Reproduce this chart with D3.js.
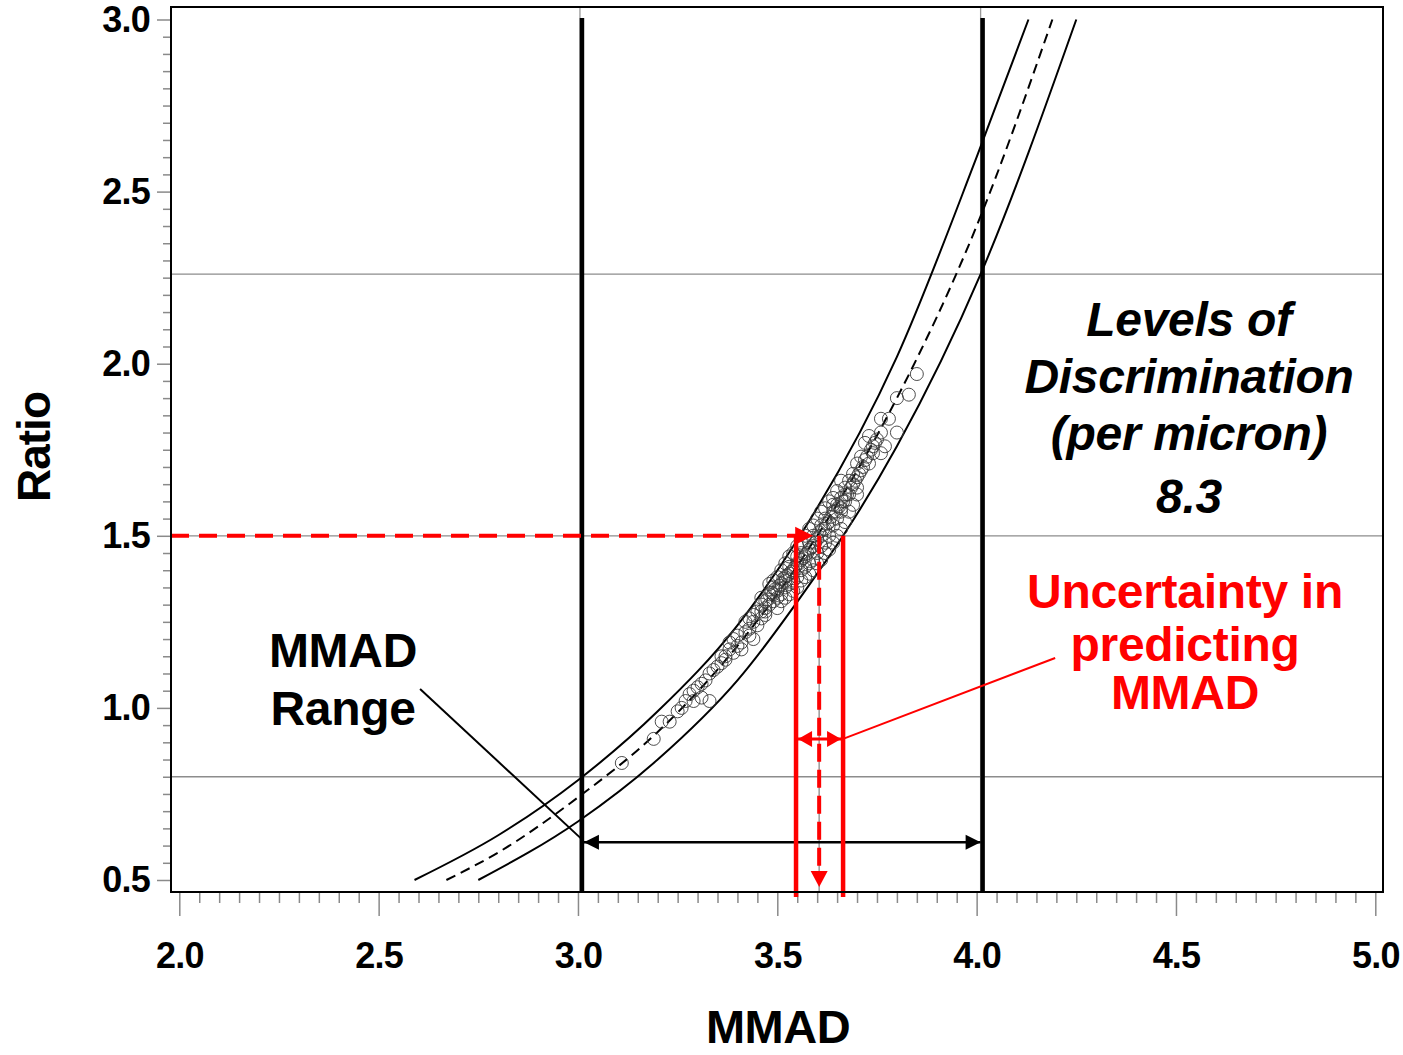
<!DOCTYPE html>
<html>
<head>
<meta charset="utf-8">
<script src="https://cdn.jsdelivr.net/npm/d3@7"></script>
<style>
  body { margin: 0; background: #fff; }
  text { font-family: "Liberation Sans", Arial, Helvetica, sans-serif; font-weight: bold; }
</style>
</head>
<body>
<div id="chart"></div>
<script>
// calibration curves
var upperMmad  = [2.59, 2.80, 3.00, 3.20, 3.40, 3.557, 3.80, 4.00, 4.13];
var upperRatio = [0.50, 0.63, 0.79, 0.99, 1.24, 1.50, 2.02, 2.60, 3.00];
var centerMmad  = [2.67, 2.80, 3.00, 3.20, 3.40, 3.60, 3.80, 4.00, 4.19];
var centerRatio = [0.50, 0.58, 0.74, 0.93, 1.18, 1.50, 1.90, 2.40, 3.00];
var lowerMmad  = [2.75, 3.00, 3.20, 3.40, 3.60, 3.665, 3.80, 4.01, 4.25];
var lowerRatio = [0.50, 0.67, 0.85, 1.08, 1.39, 1.50, 1.76, 2.26, 3.00];

// observations [MMAD, ratio]
var points = [
  [3.11,0.84],[3.19,0.91],[3.21,0.96],[3.23,0.96],[3.25,0.99],[3.26,1.00],[3.27,1.02],[3.28,1.04],
  [3.29,1.05],[3.29,1.02],[3.30,1.06],[3.31,1.07],[3.31,1.03],[3.33,1.02],[3.32,1.08],[3.33,1.10],
  [3.34,1.11],[3.35,1.12],[3.36,1.13],[3.36,1.15],[3.37,1.15],[3.37,1.14],[3.38,1.17],[3.38,1.19],
  [3.39,1.16],[3.39,1.20],[3.40,1.18],[3.40,1.21],[3.41,1.17],[3.41,1.19],[3.42,1.22],[3.42,1.25],
  [3.43,1.21],[3.43,1.23],[3.43,1.26],[3.44,1.20],[3.44,1.25],[3.44,1.27],[3.45,1.24],[3.45,1.28],
  [3.46,1.26],[3.46,1.28],[3.46,1.30],[3.46,1.32],[3.47,1.27],[3.47,1.28],[3.47,1.29],[3.47,1.31],
  [3.475,1.315],[3.48,1.30],[3.48,1.33],[3.48,1.36],[3.485,1.335],[3.49,1.31],[3.49,1.33],[3.49,1.35],
  [3.49,1.37],[3.495,1.345],[3.50,1.29],[3.50,1.32],[3.50,1.34],[3.50,1.38],[3.505,1.355],[3.51,1.31],
  [3.51,1.33],[3.51,1.36],[3.51,1.40],[3.515,1.375],[3.52,1.32],[3.52,1.35],[3.52,1.37],[3.52,1.38],
  [3.52,1.42],[3.525,1.385],[3.53,1.33],[3.53,1.36],[3.53,1.39],[3.53,1.41],[3.53,1.44],[3.535,1.395],
  [3.54,1.34],[3.54,1.37],[3.54,1.40],[3.54,1.45],[3.545,1.41],[3.55,1.35],[3.55,1.38],[3.55,1.42],
  [3.55,1.44],[3.55,1.47],[3.555,1.42],[3.56,1.37],[3.56,1.40],[3.56,1.43],[3.56,1.45],[3.56,1.48],
  [3.565,1.435],[3.57,1.38],[3.57,1.41],[3.57,1.44],[3.57,1.50],[3.575,1.45],[3.58,1.39],[3.58,1.42],
  [3.58,1.46],[3.58,1.48],[3.58,1.52],[3.585,1.465],[3.59,1.40],[3.59,1.43],[3.59,1.47],[3.59,1.50],
  [3.59,1.53],[3.595,1.48],[3.60,1.42],[3.60,1.45],[3.60,1.49],[3.60,1.55],[3.605,1.51],[3.61,1.43],
  [3.61,1.47],[3.61,1.50],[3.61,1.53],[3.61,1.57],[3.615,1.52],[3.62,1.45],[3.62,1.48],[3.62,1.52],
  [3.62,1.55],[3.62,1.58],[3.625,1.535],[3.63,1.46],[3.63,1.50],[3.63,1.54],[3.63,1.60],[3.635,1.555],
  [3.64,1.48],[3.64,1.53],[3.64,1.57],[3.64,1.59],[3.64,1.61],[3.645,1.57],[3.65,1.50],[3.65,1.55],
  [3.65,1.59],[3.65,1.63],[3.655,1.585],[3.66,1.52],[3.66,1.57],[3.66,1.58],[3.66,1.61],[3.66,1.66],
  [3.665,1.60],[3.67,1.54],[3.67,1.60],[3.67,1.62],[3.67,1.64],[3.675,1.62],[3.68,1.57],[3.68,1.62],
  [3.68,1.66],[3.685,1.64],[3.69,1.59],[3.69,1.65],[3.69,1.68],[3.695,1.66],[3.70,1.62],[3.70,1.64],
  [3.70,1.67],[3.70,1.71],[3.705,1.68],[3.71,1.69],[3.71,1.73],[3.715,1.70],[3.72,1.72],[3.72,1.77],
  [3.725,1.73],[3.73,1.71],[3.73,1.79],[3.735,1.75],[3.74,1.74],[3.74,1.76],[3.745,1.77],[3.75,1.78],
  [3.76,1.74],[3.76,1.80],[3.76,1.84],[3.77,1.76],[3.78,1.84],[3.80,1.80],[3.80,1.90],[3.83,1.91],
  [3.85,1.97]
];

// reference values
var mmadRange = [3.01, 4.015];
var refRatios = [2.26, 1.50, 0.80];
var targetRatio = 1.5;
var predictedMmad = 3.605;
var uncertaintyBounds = [3.547, 3.665];
var rangeArrowRatio = 0.61;
var uncertaintyArrowRatio = 0.91;
var rangeLeader = [[2.604, 1.055], [3.01, 0.618]];
var uncertaintyLeader = [[3.665, 0.91], [4.197, 1.145]];

var xMajor = [2.0, 2.5, 3.0, 3.5, 4.0, 4.5, 5.0];
var yMajor = [0.5, 1.0, 1.5, 2.0, 2.5, 3.0];

var width = 1403, height = 1055;
var frame = {left: 171, top: 7, right: 1383, bottom: 892};

var svg = d3.select("#chart").append("svg")
  .attr("width", width)
  .attr("height", height);

var x = d3.scaleLinear().domain([2.0, 5.0]).range([179.3, 1375.3]);
var y = d3.scaleLinear().domain([0.5, 3.0]).range([880, 19.5]);

var xMinor = d3.range(40, 101, 1).map(function(d) { return d / 20; }).filter(function(d) { return xMajor.indexOf(d) < 0; });
var yMinor = d3.range(10, 61, 1).map(function(d) { return d / 20; }).filter(function(d) { return yMajor.indexOf(d) < 0; });

// ticks
function styleAxis(g) {
  g.select(".domain").remove();
  g.selectAll(".tick line").attr("stroke", "#8a8a8a").attr("stroke-width", 1.5);
  g.selectAll(".tick text")
    .attr("fill", "#000")
    .style("font-size", "36px")
    .style("letter-spacing", "-0.8px")
    .style("font-family", "'Liberation Sans', Arial, sans-serif")
    .style("font-weight", "bold");
}

svg.append("g").attr("transform", "translate(0," + frame.bottom + ")")
  .call(d3.axisBottom(x).tickValues(xMinor).tickSize(11).tickFormat(""))
  .call(styleAxis);
svg.append("g").attr("transform", "translate(0," + frame.bottom + ")")
  .call(d3.axisBottom(x).tickValues(xMajor).tickSize(24).tickPadding(26).tickFormat(d3.format(".1f")))
  .call(styleAxis);
svg.append("g").attr("transform", "translate(" + frame.left + ",0)")
  .call(d3.axisLeft(y).tickValues(yMinor).tickSize(8).tickFormat(""))
  .call(styleAxis);
svg.append("g").attr("transform", "translate(" + frame.left + ",0)")
  .call(d3.axisLeft(y).tickValues(yMajor).tickSize(14).tickPadding(7).tickFormat(d3.format(".1f")))
  .call(styleAxis);

// grey reference lines
svg.selectAll(".href").data(refRatios).enter().append("line")
  .attr("x1", frame.left).attr("x2", frame.right)
  .attr("y1", function(d) { return y(d); }).attr("y2", function(d) { return y(d); })
  .attr("stroke", "#8c8c8c").attr("stroke-width", 1.3);
svg.selectAll(".vref").data(mmadRange).enter().append("line")
  .attr("x1", function(d) { return x(d) - 2; }).attr("x2", function(d) { return x(d) - 2; })
  .attr("y1", frame.top).attr("y2", frame.bottom)
  .attr("stroke", "#9a9a9a").attr("stroke-width", 1.3);
svg.append("line")
  .attr("x1", x(predictedMmad)).attr("x2", x(predictedMmad))
  .attr("y1", y(targetRatio)).attr("y2", frame.bottom)
  .attr("stroke", "#9a9a9a").attr("stroke-width", 1.5);

// calibration curves
var line = d3.line()
  .x(function(d) { return x(d[0]); })
  .y(function(d) { return y(d[1]); })
  .curve(d3.curveMonotoneX);

function zipCurve(a, b) { return a.map(function(v, i) { return [v, b[i]]; }); }

svg.append("path").datum(zipCurve(upperMmad, upperRatio))
  .attr("d", line).attr("fill", "none").attr("stroke", "#000").attr("stroke-width", 2);
svg.append("path").datum(zipCurve(lowerMmad, lowerRatio))
  .attr("d", line).attr("fill", "none").attr("stroke", "#000").attr("stroke-width", 2);
svg.append("path").datum(zipCurve(centerMmad, centerRatio))
  .attr("d", line).attr("fill", "none").attr("stroke", "#000").attr("stroke-width", 2)
  .attr("stroke-dasharray", "10,6");

// observations
svg.append("g").selectAll("circle").data(points).enter().append("circle")
  .attr("cx", function(d) { return x(d[0]); })
  .attr("cy", function(d) { return y(d[1]); })
  .attr("r", 6.5)
  .attr("fill", "none")
  .attr("stroke", "#3a3a3a")
  .attr("stroke-width", 0.9);

// MMAD range lines
svg.selectAll(".range").data(mmadRange).enter().append("line")
  .attr("x1", function(d) { return x(d); }).attr("x2", function(d) { return x(d); })
  .attr("y1", y(3.0) - 1.5).attr("y2", frame.bottom)
  .attr("stroke", "#000").attr("stroke-width", 4.5);

// arrowhead helper: tip at (tx,ty), pointing in direction (dx,dy)
function arrowHead(tx, ty, dx, dy, len, half) {
  var bx = tx - dx * len, by = ty - dy * len;
  var px = -dy * half, py = dx * half;
  return "M" + tx + "," + ty + "L" + (bx + px) + "," + (by + py) + "L" + (bx - px) + "," + (by - py) + "Z";
}

// black double arrow for MMAD range
var ra = y(rangeArrowRatio);
svg.append("line")
  .attr("x1", x(mmadRange[0]) + 2).attr("x2", x(mmadRange[1]) - 2)
  .attr("y1", ra).attr("y2", ra)
  .attr("stroke", "#000").attr("stroke-width", 2.5);
svg.append("path").attr("d", arrowHead(x(mmadRange[0]) + 2, ra, -1, 0, 15, 7.5)).attr("fill", "#000");
svg.append("path").attr("d", arrowHead(x(mmadRange[1]) - 2, ra, 1, 0, 15, 7.5)).attr("fill", "#000");

svg.append("line")
  .attr("x1", x(rangeLeader[0][0])).attr("y1", y(rangeLeader[0][1]))
  .attr("x2", x(rangeLeader[1][0])).attr("y2", y(rangeLeader[1][1]))
  .attr("stroke", "#000").attr("stroke-width", 2);

// red: horizontal dashed from target ratio to upper curve
var red = "#ff0000";
var ty = y(targetRatio);
var tipX = x(3.59);
svg.append("line")
  .attr("x1", frame.left).attr("x2", tipX - 12)
  .attr("y1", ty).attr("y2", ty)
  .attr("stroke", red).attr("stroke-width", 4).attr("stroke-dasharray", "18,10");
svg.append("path").attr("d", arrowHead(tipX, ty, 1, 0, 18, 9)).attr("fill", red);

// red uncertainty bounds
svg.selectAll(".ub").data(uncertaintyBounds).enter().append("line")
  .attr("x1", function(d) { return x(d); }).attr("x2", function(d) { return x(d); })
  .attr("y1", ty).attr("y2", frame.bottom + 5)
  .attr("stroke", red).attr("stroke-width", 4.5);

// red dashed predicted MMAD
var px = x(predictedMmad);
svg.append("line")
  .attr("x1", px).attr("x2", px)
  .attr("y1", ty).attr("y2", frame.bottom - 16)
  .attr("stroke", red).attr("stroke-width", 4).attr("stroke-dasharray", "18,8");
svg.append("path").attr("d", arrowHead(px, frame.bottom - 5, 0, 1, 16, 8.5)).attr("fill", red);

// red double arrow between bounds
var ua = y(uncertaintyArrowRatio);
svg.append("line")
  .attr("x1", x(uncertaintyBounds[0]) + 2).attr("x2", x(uncertaintyBounds[1]) - 2)
  .attr("y1", ua).attr("y2", ua)
  .attr("stroke", red).attr("stroke-width", 3);
svg.append("path").attr("d", arrowHead(x(uncertaintyBounds[0]) + 2, ua, -1, 0, 14, 8)).attr("fill", red);
svg.append("path").attr("d", arrowHead(x(uncertaintyBounds[1]) - 2, ua, 1, 0, 14, 8)).attr("fill", red);

svg.append("line")
  .attr("x1", x(uncertaintyLeader[0][0])).attr("y1", y(uncertaintyLeader[0][1]))
  .attr("x2", x(uncertaintyLeader[1][0])).attr("y2", y(uncertaintyLeader[1][1]))
  .attr("stroke", red).attr("stroke-width", 2);

// frame
svg.append("rect")
  .attr("x", frame.left).attr("y", frame.top)
  .attr("width", frame.right - frame.left).attr("height", frame.bottom - frame.top)
  .attr("fill", "none").attr("stroke", "#000").attr("stroke-width", 2);

// text annotations
function addLines(lines, cx, baselines, color, italic) {
  lines.forEach(function(t, i) {
    svg.append("text")
      .attr("x", cx).attr("y", baselines[i])
      .attr("text-anchor", "middle")
      .attr("fill", color)
      .style("font-size", "48px")
      .style("font-style", italic ? "italic" : "normal")
      .style("letter-spacing", "-0.3px")
      .text(t);
  });
}
addLines(["MMAD", "Range"], 343, [667, 725], "#000", false);
addLines(["Uncertainty in", "predicting", "MMAD"], 1185, [608, 661, 709], red, false);
addLines(["Levels of", "Discrimination", "(per micron)", "8.3"], 1189, [336, 393, 450, 513], "#000", true);

// axis titles
svg.append("text")
  .attr("x", 778).attr("y", 1043)
  .attr("text-anchor", "middle")
  .style("font-size", "47px")
  .style("letter-spacing", "-0.5px")
  .text("MMAD");
svg.append("text")
  .attr("transform", "translate(50,447) rotate(-90)")
  .attr("text-anchor", "middle")
  .style("font-size", "46px")
  .style("letter-spacing", "-1px")
  .text("Ratio");
</script>
</body>
</html>
